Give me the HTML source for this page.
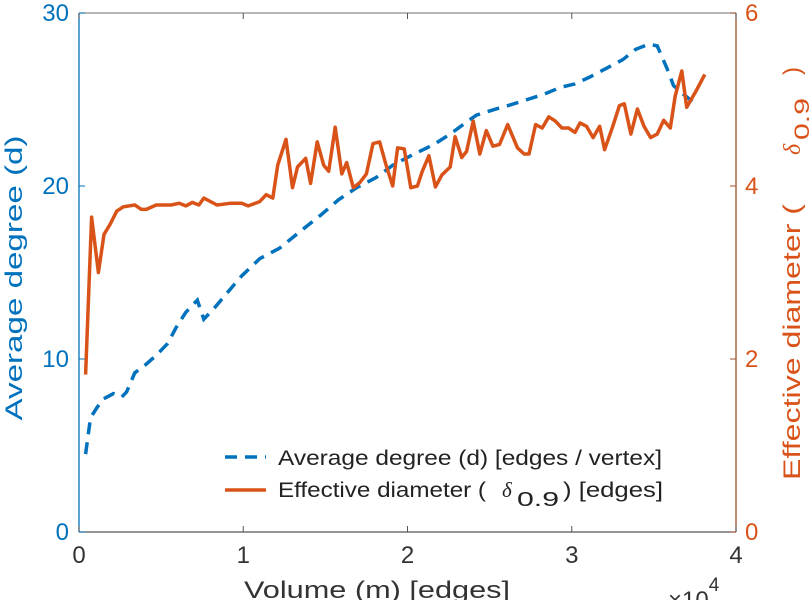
<!DOCTYPE html>
<html><head><meta charset="utf-8"><style>
html,body{margin:0;padding:0;background:#fff;}
svg{display:block;font-family:"Liberation Sans",sans-serif;}
</style></head><body>
<svg id="chart" width="812" height="600" viewBox="0 0 812 600"></svg>
<script>
const xTicks=[0,1,2,3,4];
const leftTicks=[0,10,20,30];
const rightTicks=[0,2,4,6];
const degX=[0.04,0.07,0.11,0.15,0.21,0.26,0.29,0.34,0.41,0.48,0.54,0.59,0.65,0.72,0.76,0.82,0.9,0.99,1.1,1.22,1.35,1.47,1.58,1.69,1.81,1.91,2.03,2.16,2.26,2.36,2.42,2.52,2.63,2.73,2.83,2.93,3.02,3.11,3.21,3.31,3.39,3.47,3.52,3.58,3.62,3.68,3.76];
const degY=[4.5,6.6,7.2,7.7,8.0,7.8,8.1,9.2,9.7,10.3,10.9,11.8,12.7,13.4,12.3,12.9,13.8,14.8,15.8,16.4,17.4,18.3,19.2,19.9,20.5,21.2,21.8,22.4,23.0,23.7,24.1,24.4,24.7,25.0,25.3,25.7,25.9,26.3,26.8,27.3,27.9,28.2,28.1,26.8,25.8,25.3,24.7];
const diaX=[0.04,0.077,0.118,0.152,0.19,0.23,0.27,0.34,0.38,0.41,0.47,0.56,0.61,0.65,0.69,0.73,0.76,0.84,0.92,0.99,1.03,1.1,1.14,1.18,1.21,1.26,1.3,1.33,1.38,1.41,1.45,1.49,1.52,1.56,1.6,1.63,1.67,1.71,1.75,1.79,1.83,1.87,1.91,1.94,1.98,2.02,2.06,2.09,2.13,2.17,2.21,2.26,2.29,2.33,2.36,2.4,2.44,2.48,2.52,2.56,2.61,2.67,2.71,2.74,2.78,2.82,2.86,2.9,2.94,2.98,3.02,3.05,3.09,3.13,3.17,3.2,3.25,3.29,3.32,3.36,3.4,3.44,3.48,3.52,3.56,3.6,3.63,3.67,3.7,3.76,3.81];
const diaY=[1.82,3.64,3.0,3.44,3.56,3.71,3.76,3.78,3.73,3.73,3.78,3.78,3.8,3.77,3.81,3.78,3.86,3.78,3.8,3.8,3.77,3.82,3.9,3.86,4.24,4.54,3.98,4.22,4.32,4.03,4.51,4.24,4.17,4.68,4.14,4.27,3.98,4.04,4.14,4.49,4.51,4.24,4.0,4.44,4.43,3.98,4.0,4.17,4.35,3.99,4.13,4.22,4.57,4.33,4.4,4.75,4.37,4.64,4.46,4.48,4.71,4.44,4.37,4.37,4.71,4.67,4.8,4.75,4.67,4.67,4.62,4.73,4.69,4.56,4.69,4.42,4.69,4.93,4.95,4.6,4.89,4.69,4.56,4.6,4.76,4.67,5.04,5.33,4.91,5.11,5.29];

const L=79,R=736,T=13,B=532;
const BLUE='#0072BD',ORANGE='#D95319';
const sx=v=>L+(R-L)*v/4;
const syL=v=>B-(B-T)*v/30;
const syR=v=>B-(B-T)*v/6;
const svg=document.getElementById('chart');
const NS='http://www.w3.org/2000/svg';
function mk(tag,attrs,parent){const e=document.createElementNS(NS,tag);for(const k in attrs)e.setAttribute(k,attrs[k]);(parent||svg).appendChild(e);return e;}

let e;
e=mk('line',{x1:L,y1:T,x2:R,y2:T,stroke:'#8a8a8a','stroke-width':1.3});


e=mk('line',{x1:L,y1:B,x2:R,y2:B,stroke:'#555','stroke-width':1.3});


e=mk('line',{x1:L,y1:T,x2:L,y2:B,stroke:BLUE,'stroke-width':1.3});


e=mk('line',{x1:R,y1:T,x2:R,y2:B,stroke:'#a0522d','stroke-width':1.3});



xTicks.forEach(t=>{
  const x=sx(t);
  let l=mk('line',{x1:x,y1:B,x2:x,y2:B-6,stroke:'#555'});
  
  
  l=mk('line',{x1:x,y1:T,x2:x,y2:T+6,stroke:'#555'});
  
  
  const tx=mk('text',{x:x,y:B+31,'text-anchor':'middle','font-size':24,fill:'#333'});
  tx.textContent=t;
  
  
});
leftTicks.forEach(t=>{
  const y=syL(t);
  const l=mk('line',{x1:L,y1:y,x2:L+6,y2:y,stroke:BLUE});
  
  
  const tx=mk('text',{x:L-10,y:y+8,'text-anchor':'end','font-size':24,fill:BLUE});
  tx.textContent=t;
  
  
});
rightTicks.forEach(t=>{
  const y=syR(t);
  const l=mk('line',{x1:R,y1:y,x2:R-6,y2:y,stroke:'#a0522d'});
  
  
  const tx=mk('text',{x:R+9,y:y+8,'font-size':24,fill:ORANGE});
  tx.textContent=t;
  
  
});

let d=degX.map((v,i)=>(i?'L':'M')+sx(v).toFixed(1)+','+syL(degY[i]).toFixed(1)).join('');
e=mk('path',{d:d,fill:'none',stroke:BLUE,'stroke-width':3.5,'stroke-dasharray':'12,8'});


d=diaX.map((v,i)=>(i?'L':'M')+sx(v).toFixed(1)+','+syR(diaY[i]).toFixed(1)).join('');
e=mk('path',{d:d,fill:'none',stroke:ORANGE,'stroke-width':3.5,'stroke-linejoin':'round'});


</script>
<svg style="position:absolute;left:0;top:0" width="812" height="600">
  <g font-family="Liberation Sans, sans-serif" font-size="21" fill="#222">
    <line x1="225" y1="457" x2="266" y2="457" stroke="#0072BD" stroke-width="3.5" stroke-dasharray="12,8"/>
    <text x="278" y="465" textLength="384" lengthAdjust="spacingAndGlyphs">Average degree (d) [edges / vertex]</text>
    <line x1="225" y1="490" x2="266" y2="490" stroke="#D95319" stroke-width="3.5"/>
    <text x="278" y="497" textLength="208" lengthAdjust="spacingAndGlyphs">Effective diameter (</text>
    <text x="502" y="497" font-style="italic" font-family="Liberation Serif, serif">δ</text>
    <text x="517" y="506" font-size="20" textLength="42" lengthAdjust="spacingAndGlyphs">0.9</text>
    <text x="563" y="497" textLength="100" lengthAdjust="spacingAndGlyphs">) [edges]</text>
  </g>
  <text transform="translate(22,278) rotate(-90)" text-anchor="middle" textLength="285" lengthAdjust="spacingAndGlyphs" font-family="Liberation Sans, sans-serif" font-size="24" fill="#0072BD">Average degree (d)</text>
  <g transform="translate(800,480) rotate(-90)" font-family="Liberation Sans, sans-serif" font-size="24" fill="#D95319">
    <text x="0" y="0" textLength="276" lengthAdjust="spacingAndGlyphs">Effective diameter (</text>
    <text x="325" y="0" font-style="italic" font-family="Liberation Serif, serif">δ</text>
    <text x="340" y="9" font-size="21" textLength="42" lengthAdjust="spacingAndGlyphs">0.9</text>
    <text x="405" y="0">)</text>
  </g>
  <text x="377" y="598" text-anchor="middle" textLength="266" lengthAdjust="spacingAndGlyphs" font-family="Liberation Sans, sans-serif" font-size="24" fill="#333">Volume (m) [edges]</text>
  <text x="668" y="608" font-family="Liberation Sans, sans-serif" font-size="24" fill="#333">×10<tspan font-size="19" dy="-17">4</tspan></text>
</svg>
</body></html>
